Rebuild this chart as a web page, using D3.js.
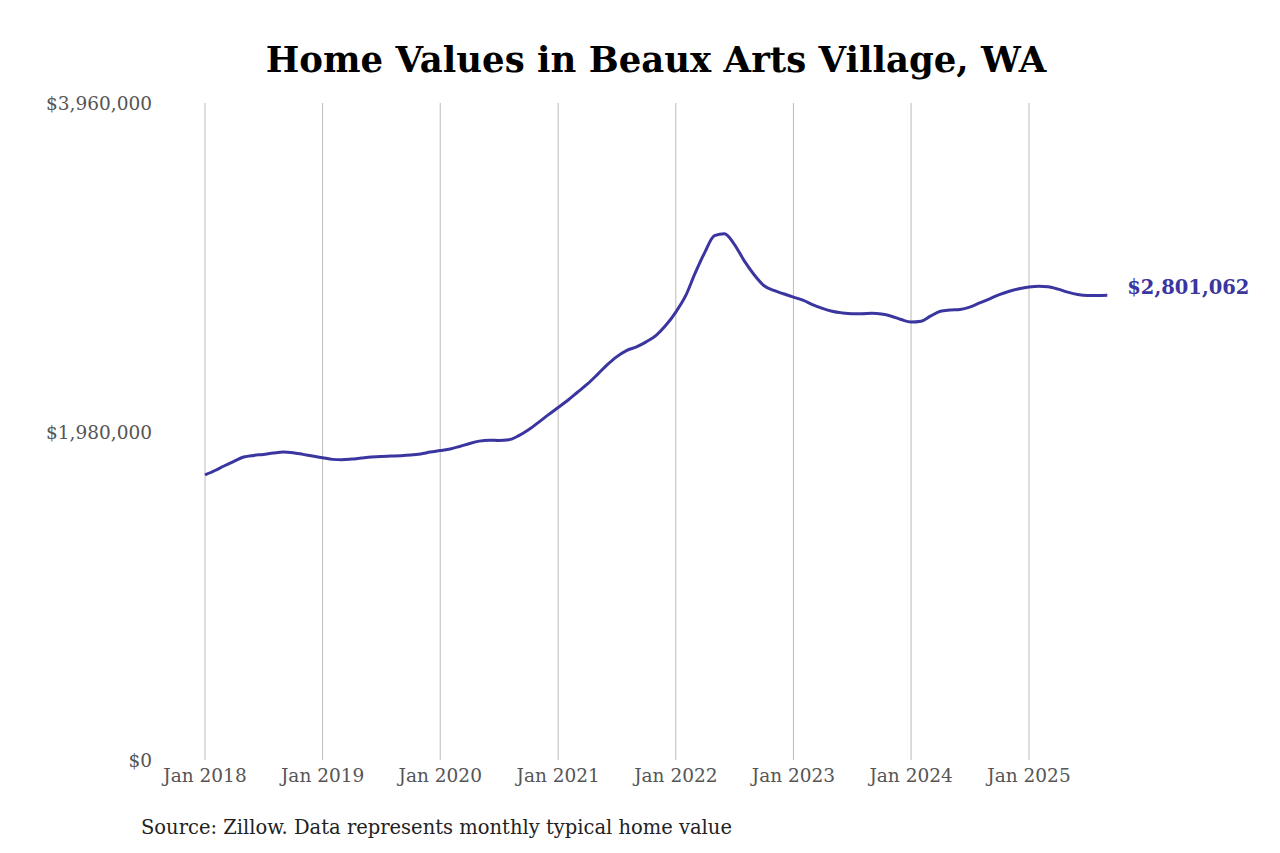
<!DOCTYPE html>
<html><head><meta charset="utf-8">
<script src="https://cdn.jsdelivr.net/npm/d3@7"></script>
<style>body{margin:0;background:#fff}</style></head>
<body><svg id="c" width="1280" height="853"></svg>
<script>
const startYear = 2018, startMonth = 0;
const values = [
1718000,1745000,1772000,1800000,1826000,1836000,1842000,1850000,1856000,1852000,1842000,1832000,
1822000,1812000,1810000,1814000,1820000,1826000,1830000,1832000,1834000,1838000,1845000,1856000,
1865000,1875000,1890000,1908000,1922000,1928000,1926000,1930000,1955000,1990000,2035000,2080000,
2125000,2170000,2215000,2265000,2320000,2380000,2430000,2468000,2490000,2520000,2560000,2620000,
2700000,2800000,2930000,3060000,3160000,3172000,3110000,3010000,2925000,2860000,2830000,2810000,
2790000,2770000,2745000,2722000,2705000,2695000,2690000,2690000,2692000,2688000,2675000,2655000,
2640000,2645000,2675000,2705000,2712000,2716000,2730000,2755000,2780000,2805000,2825000,2840000,
2851000,2856000,2852000,2838000,2820000,2806000,2800000,2800000,2801062];
const yTicks = [0,1980000,3960000];
const xTickYears = [2018,2019,2020,2021,2022,2023,2024,2025];
const title = "Home Values in Beaux Arts Village, WA";
const source = "Source: Zillow. Data represents monthly typical home value";

const data = values.map((v,i)=>({d:new Date(startYear,startMonth+i,1),v}));
const svg = d3.select("#c");
const font = "'DejaVu Serif', serif";
const x = d3.scaleTime().domain([new Date(2018,0,1), new Date(2025,0,1)]).range([205,1029]);
const y = d3.scaleLinear().domain([0,3960000]).range([760,103]);

svg.append("text").attr("x",656).attr("y",72).attr("text-anchor","middle")
 .attr("font-family",font).attr("font-weight","bold").attr("font-size",35.5).text(title);

svg.selectAll(".g").data(xTickYears).join("line")
 .attr("x1",d=>x(new Date(d,0,1))).attr("x2",d=>x(new Date(d,0,1)))
 .attr("y1",103).attr("y2",760).attr("stroke","#bbb").attr("stroke-width",1);

svg.selectAll(".xl").data(xTickYears).join("text")
 .attr("x",d=>x(new Date(d,0,1))).attr("y",782).attr("text-anchor","middle")
 .attr("font-family",font).attr("font-size",18.5).attr("fill","#555").text(d=>"Jan "+d);

svg.selectAll(".yl").data(yTicks).join("text")
 .attr("x",152).attr("y",d=>y(d)+7).attr("text-anchor","end")
 .attr("font-family",font).attr("font-size",18.5).attr("fill","#555")
 .text(d=>"$"+d3.format(",")(d));

const line = d3.line().x(d=>x(d.d)).y(d=>y(d.v)).curve(d3.curveMonotoneX);
svg.append("path").datum(data).attr("d",line).attr("fill","none")
 .attr("stroke","#3b35a0").attr("stroke-width",3);

const last = data[data.length-1];
svg.append("text").attr("x",x(last.d)+20).attr("y",y(last.v)-1)
 .attr("font-family",font).attr("font-weight","bold").attr("font-size",19.5).attr("fill","#3b35a0")
 .text("$"+d3.format(",")(last.v));

svg.append("text").attr("x",141).attr("y",834).attr("font-family",font).attr("font-size",19.5)
 .attr("fill","#222").text(source);
</script></body></html>
